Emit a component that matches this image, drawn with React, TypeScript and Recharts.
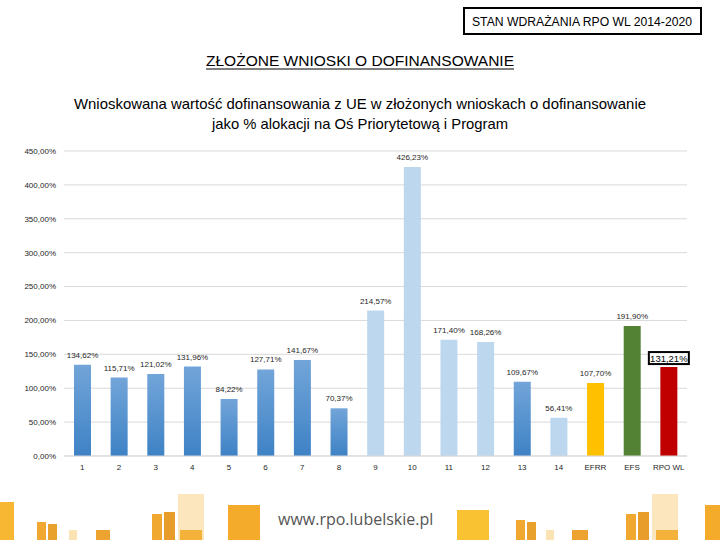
import React from 'react';
import { BarChart, Bar, XAxis, YAxis, CartesianGrid, Cell, LabelList } from 'recharts';

const categories = ['1', '2', '3', '4', '5', '6', '7', '8', '9', '10', '11', '12', '13', '14', 'EFRR', 'EFS', 'RPO WL'];
const values = [134.62, 115.71, 121.02, 131.96, 84.22, 127.71, 141.67, 70.37, 214.57, 426.23, 171.4, 168.26, 109.67, 56.41, 107.7, 191.9, 131.21];
const yTicks = [0, 50, 100, 150, 200, 250, 300, 350, 400, 450];
const lightCategories = ['9', '10', '11', '12', '14'];

const data = categories.map((c, i) => ({ cat: c, value: values[i] }));

const FONT = "'Liberation Sans', Arial, sans-serif";

const fmt = (v: number) => v.toFixed(2).replace('.', ',') + '%';

const fillFor = (c: string) => {
  if (c === 'EFRR') return '#ffc000';
  if (c === 'EFS') return '#548235';
  if (c === 'RPO WL') return '#c00000';
  if (lightCategories.includes(c)) return '#bdd7ee';
  return 'url(#blueGrad)';
};

const renderLabel = (props: any) => {
  const { x, y, width, value, index } = props;
  const cx = x + width / 2;
  if (index === categories.length - 1) {
    return (
      <g>
        <rect x={cx - 20} y={y - 15} width={40} height={12} fill="#fff" stroke="#000" strokeWidth={2} />
        <text x={cx} y={y - 5.5} textAnchor="middle" fontSize={9.5} fontFamily={FONT} fill="#000">{fmt(value)}</text>
      </g>
    );
  }
  return (
    <text x={cx} y={y - 7} textAnchor="middle" fontSize={8} fontFamily={FONT} fill="#262626">{fmt(value)}</text>
  );
};

const blocks = [
  { x: 0, y: 502, w: 14, h: 38, c: '#f7b733' },
  { x: 37, y: 522, w: 9, h: 18, c: '#f0a830' },
  { x: 48, y: 524, w: 9, h: 16, c: '#e9a12d' },
  { x: 69, y: 530, w: 8, h: 10, c: '#fbe3b3' },
  { x: 96, y: 530, w: 14, h: 10, c: '#eda32f' },
  { x: 152, y: 514, w: 10, h: 26, c: '#f0a830' },
  { x: 164, y: 512, w: 11, h: 28, c: '#e89c2a' },
  { x: 178, y: 494, w: 26, h: 46, c: '#fce6bd' },
  { x: 180, y: 530, w: 22, h: 10, c: '#f4b23a' },
  { x: 228, y: 505, w: 32, h: 35, c: '#f4ab2c' },
  { x: 457, y: 510, w: 32, h: 30, c: '#f9c232' },
  { x: 516, y: 520, w: 9, h: 20, c: '#f0a830' },
  { x: 527, y: 522, w: 9, h: 18, c: '#e9a12d' },
  { x: 546, y: 530, w: 8, h: 10, c: '#fbe3b3' },
  { x: 572, y: 530, w: 16, h: 10, c: '#eda32f' },
  { x: 626, y: 514, w: 10, h: 26, c: '#f0a830' },
  { x: 638, y: 512, w: 11, h: 28, c: '#e89c2a' },
  { x: 652, y: 494, w: 26, h: 46, c: '#fce6bd' },
  { x: 656, y: 530, w: 22, h: 10, c: '#f4b23a' },
  { x: 705, y: 505, w: 15, h: 35, c: '#f4ab2c' },
];

export default function App() {
  return (
    <div style={{ position: 'absolute', left: 0, top: 0, width: 720, height: 540, background: '#fff', overflow: 'hidden' }}>
      <svg width={720} height={140} style={{ position: 'absolute', left: 0, top: 0 }}>
        <rect x={464} y={8} width={237} height={26} fill="#fff" stroke="#000" strokeWidth={2} />
        <text x={582} y={26} textAnchor="middle" fontSize={12.5} fontFamily={FONT} fill="#000" textLength={220} lengthAdjust="spacingAndGlyphs">STAN WDRAŻANIA RPO WL 2014-2020</text>
        <text x={360} y={66} textAnchor="middle" fontSize={14} fontFamily={FONT} fill="#000" textLength={308} lengthAdjust="spacingAndGlyphs">ZŁOŻONE WNIOSKI O DOFINANSOWANIE</text>
        <line x1={206} x2={514} y1={69} y2={69} stroke="#000" strokeWidth={1} />
        <text x={360} y={109} textAnchor="middle" fontSize={14.5} fontFamily={FONT} fill="#000" textLength={572} lengthAdjust="spacingAndGlyphs">Wnioskowana wartość dofinansowania z UE w złożonych wnioskach o dofinansowanie</text>
        <text x={360} y={129} textAnchor="middle" fontSize={14.5} fontFamily={FONT} fill="#000" textLength={296} lengthAdjust="spacingAndGlyphs">jako % alokacji na Oś Priorytetową i Program</text>
      </svg>
      <div style={{ position: 'absolute', left: 0, top: 0 }}>
        <BarChart width={720} height={540} data={data} margin={{ top: 151, right: 33, left: 0, bottom: 54 }}>
          <defs>
            <linearGradient id="blueGrad" x1="0" y1="0" x2="0" y2="1">
              <stop offset="0%" stopColor="#72a5d9" />
              <stop offset="100%" stopColor="#3e82c5" />
            </linearGradient>
          </defs>
          <CartesianGrid horizontal vertical={false} stroke="#d9d9d9" />
          <XAxis dataKey="cat" interval={0} tickLine={false} axisLine={{ stroke: '#d9d9d9' }} height={30}
            tick={{ fontSize: 8, fontFamily: FONT, fill: '#262626' }} />
          <YAxis width={64} domain={[0, 450]} ticks={yTicks} tickFormatter={fmt} axisLine={false} tickLine={false}
            tick={{ fontSize: 8, fontFamily: FONT, fill: '#262626' }} />
          <Bar dataKey="value" barSize={17} isAnimationActive={false}>
            {data.map((d, i) => (
              <Cell key={i} fill={fillFor(d.cat)} />
            ))}
            <LabelList dataKey="value" content={renderLabel} />
          </Bar>
        </BarChart>
      </div>
      {blocks.map((b, i) => (
        <div key={i} style={{ position: 'absolute', left: b.x, top: b.y, width: b.w, height: b.h, background: b.c }} />
      ))}
      <div style={{ position: 'absolute', left: 278, top: 508, fontFamily: "'Open Sans', sans-serif", fontSize: 16, color: '#555', whiteSpace: 'nowrap' }}>www.rpo.lubelskie.pl</div>
    </div>
  );
}
